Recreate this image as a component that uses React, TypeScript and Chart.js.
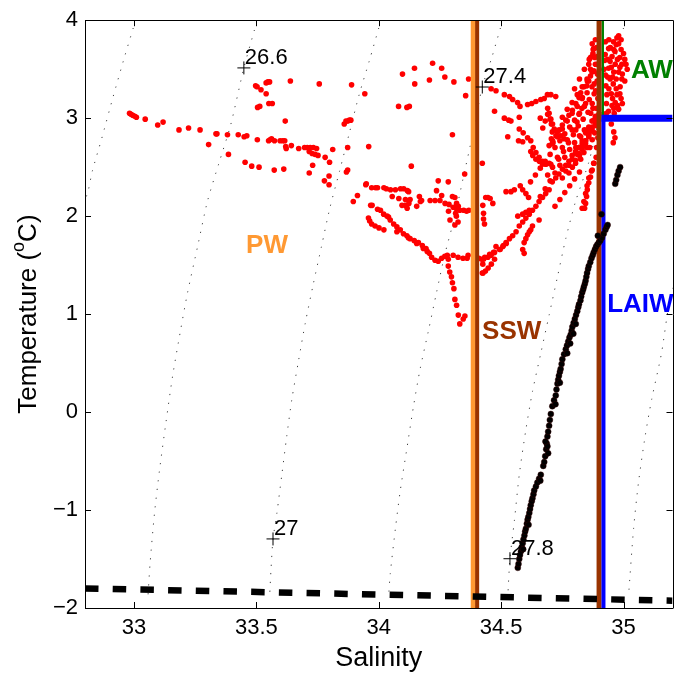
import React, { useEffect, useRef } from "react";
import { Chart, registerables } from "chart.js";

Chart.register(...registerables);

type Pt = [number, number];

const FONT = '"Liberation Sans", Arial, Helvetica, sans-serif';

// ---- axes ----
const salinityRange = [32.8, 35.2];
const temperatureRange = [-2, 4];
const salinityTicks = [33, 33.5, 34, 34.5, 35];
const temperatureTicks = [-2, -1, 0, 1, 2, 3, 4];

// ---- isopycnals (sigma-theta) ----
const iso262: Pt[] = [[32.997, 3.92], [32.962, 3.63], [32.915, 3.22], [32.868, 2.79], [32.83, 2.46], [32.81, 2.23], [32.79, 2.13]];
const iso266: Pt[] = [[33.492, 3.9], [33.449, 3.513], [33.395, 2.93], [33.347, 2.54], [33.3, 2.15], [33.26, 1.69], [33.219, 1.22], [33.19, 0.83], [33.158, 0.37], [33.131, -0.1], [33.104, -0.6], [33.084, -1.03], [33.066, -1.54], [33.057, -1.89]];
const iso270: Pt[] = [[34.0, 3.92], [33.962, 3.59], [33.92, 3.24], [33.88, 2.85], [33.84, 2.46], [33.8, 2.08], [33.766, 1.69], [33.732, 1.3], [33.7, 0.91], [33.672, 0.52], [33.645, 0.13], [33.624, -0.25], [33.604, -0.64], [33.584, -1.03], [33.568, -1.3], [33.56, -1.6], [33.554, -1.89]];
const iso274: Pt[] = [[34.497, 3.92], [34.462, 3.62], [34.423, 3.318], [34.385, 2.85], [34.345, 2.39], [34.311, 2.0], [34.27, 1.61], [34.236, 1.22], [34.203, 0.83], [34.169, 0.44], [34.142, 0.06], [34.115, -0.37], [34.088, -0.8], [34.068, -1.19], [34.047, -1.65], [34.04, -1.89]];
const iso278: Pt[] = [[35.0, 3.92], [34.987, 3.83], [34.966, 3.59], [34.93, 3.26], [34.895, 2.93], [34.858, 2.55], [34.804, 2.15], [34.764, 1.77], [34.73, 1.38], [34.696, 0.99], [34.662, 0.6], [34.628, 0.21], [34.601, -0.18], [34.574, -0.64], [34.554, -1.11], [34.536, -1.497], [34.527, -1.89]];
const iso282: Pt[] = [[35.5, 3.92], [35.42, 3.3], [35.33, 2.5], [35.26, 1.8], [35.189, 1.14], [35.155, 0.6], [35.115, 0.13], [35.088, -0.25], [35.061, -0.72], [35.041, -1.19], [35.02, -1.89]];
const isopycnals = [iso262, iso266, iso270, iso274, iso278, iso282];

// contour labels
const contourLabelText = ["26.6", "27", "27.4", "27.8"];
const contourLabelS = [33.449, 33.568, 34.423, 34.536];
const contourLabelT = [3.513, -1.295, 3.318, -1.497];

// freezing line
const freezingLine: Pt[] = [[32.8, -1.8], [35.2, -1.925]];

// water-mass boundaries
const pwBoundaryS = 34.386;
const sswBoundaryLeftS = 34.402;
const sswBoundaryRightS = 34.9;
const awBoundaryS = 34.915;
const laiwBoundaryS = 34.918;
const laiwTopT = 3.0;

// water-mass labels
const waterMassNames = ["PW", "SSW", "AW", "LAIW"];
const waterMassS = [33.458, 34.422, 35.03, 34.933];
const waterMassT = [1.693, 0.814, 3.48, 1.09];
const waterMassColors = ["#ff9933", "#993300", "#008000", "#0000ff"];

// ---- red profile points (upper layer) ----
const redShelf: Pt[] = [
  [32.982, 3.05], [32.988, 3.04], [32.995, 3.03], [33.003, 3.02], [33.01, 3.01], [33.046, 2.99], [33.097, 2.93], [33.119, 2.96],
  [33.184, 2.88], [33.223, 2.9], [33.27, 2.88], [33.305, 2.73], [33.335, 2.84], [33.339, 2.84], [33.382, 2.83], [33.386, 2.63],
  [33.426, 2.83], [33.45, 2.81], [33.461, 2.82], [33.454, 2.55], [33.481, 2.51], [33.511, 2.5], [33.504, 2.78], [33.55, 2.77],
  [33.556, 2.78], [33.562, 2.79], [33.574, 2.77], [33.573, 2.47], [33.597, 2.77], [33.608, 2.77], [33.616, 2.77], [33.62, 2.71],
  [33.622, 2.69], [33.612, 2.48], [33.618, 2.97], [33.643, 2.72], [33.673, 2.69], [33.697, 2.7], [33.708, 2.7], [33.72, 2.7],
  [33.733, 2.7], [33.746, 2.69], [33.716, 2.66], [33.728, 2.64], [33.74, 2.63], [33.752, 2.62], [33.73, 2.52], [33.716, 2.44],
  [33.781, 2.6], [33.799, 2.55], [33.812, 2.68], [33.778, 2.36], [33.797, 2.41], [33.797, 2.32], [33.873, 2.7], [33.868, 2.45],
  [33.873, 2.47], [33.959, 2.71], [33.896, 2.15], [33.913, 2.21], [33.949, 2.33], [33.947, 2.32], [33.971, 2.29], [33.987, 2.29],
  [33.995, 2.29], [33.973, 2.11], [33.967, 2.11], [33.995, 2.07], [33.958, 1.98], [33.963, 1.95], [33.971, 1.92], [33.985, 1.9],
  [34.001, 1.88], [34.021, 1.86],
  [33.497, 3.33], [33.503, 3.32], [33.519, 3.29], [33.54, 3.25], [33.54, 3.36], [33.547, 3.37], [33.554, 3.37], [33.505, 3.11],
  [33.514, 3.12], [33.551, 3.15], [33.565, 3.15], [33.639, 3.38], [33.757, 3.35], [33.889, 3.34], [33.943, 3.25], [33.859, 2.94],
  [33.866, 2.97], [33.874, 2.97], [33.88, 2.98], [33.886, 2.98],
];

const redMid: Pt[] = [
  [34.021, 2.29], [34.031, 2.28], [34.048, 2.27], [34.068, 2.27], [34.089, 2.28], [34.102, 2.28], [34.117, 2.26], [34.122, 2.25],
  [34.007, 2.06], [34.02, 2.02], [34.034, 2.0], [34.047, 1.96], [34.061, 1.92], [34.074, 1.89], [34.088, 1.86], [34.101, 1.82],
  [34.115, 1.8], [34.128, 1.77], [34.145, 1.75], [34.162, 1.73], [34.178, 1.7], [34.193, 1.67], [34.207, 1.62], [34.216, 1.58],
  [34.23, 1.55], [34.243, 1.54], [34.257, 1.57], [34.27, 1.59], [34.28, 1.6], [34.284, 1.56],
  [34.04, 1.99], [34.074, 1.84], [34.121, 1.78], [34.155, 1.72], [34.182, 1.67], [34.198, 1.64],
  [34.304, 1.6], [34.324, 1.58], [34.344, 1.57], [34.361, 1.57], [34.365, 1.6],
  [34.284, 1.49], [34.29, 1.43], [34.297, 1.38], [34.301, 1.32], [34.307, 1.26], [34.311, 1.15], [34.318, 1.09], [34.325, 0.99],
  [34.331, 0.9], [34.345, 0.95], [34.352, 0.98],
  [34.097, 3.45], [34.146, 3.51], [34.147, 3.35], [34.207, 3.39], [34.22, 3.56], [34.257, 3.51], [34.27, 3.42], [34.307, 3.37],
  [34.355, 3.23], [34.367, 3.4], [34.081, 3.12], [34.115, 3.11], [34.125, 3.12], [34.301, 2.83], [34.133, 2.51], [34.351, 2.43],
  [34.243, 2.36], [34.284, 2.35],
  [34.055, 2.2], [34.082, 2.18], [34.109, 2.17], [34.123, 2.13], [34.095, 2.11], [34.116, 2.08], [34.166, 2.2], [34.17, 2.15],
  [34.21, 2.16], [34.23, 2.16], [34.25, 2.16], [34.271, 2.13], [34.311, 2.19], [34.318, 2.13], [34.325, 2.1], [34.285, 2.05],
  [34.314, 2.03], [34.291, 1.96], [34.311, 1.91], [34.359, 2.05], [34.368, 2.06],
  [34.236, 2.26], [34.257, 2.21], [34.175, 2.16], [34.155, 2.1], [34.128, 2.17], [34.108, 2.11], [34.287, 2.12], [34.304, 2.09],
  [34.331, 2.06], [34.347, 2.06], [34.301, 2.2], [34.315, 2.08], [34.317, 2.0], [34.324, 1.94],
];

const redFront: Pt[] = [
  [34.437, 2.19], [34.446, 2.19], [34.455, 2.18], [34.425, 2.11], [34.428, 2.03], [34.428, 1.97], [34.432, 1.92], [34.466, 2.13],
  [34.423, 2.54], [34.425, 1.51], [34.423, 1.42], [34.409, 1.57], [34.428, 1.56], [34.446, 1.58], [34.459, 1.6], [34.469, 1.63],
  [34.42, 1.56], [34.433, 1.58], [34.453, 1.61], [34.473, 1.63], [34.426, 1.42], [34.436, 1.44], [34.447, 1.47], [34.46, 1.51],
  [34.473, 1.56], [34.493, 1.66], [34.509, 1.7], [34.521, 1.72],
  [34.479, 1.69], [34.496, 1.66], [34.507, 1.69], [34.52, 1.73], [34.534, 1.77], [34.547, 1.8], [34.561, 1.84], [34.574, 1.9],
  [34.588, 1.94], [34.601, 1.98], [34.615, 2.02], [34.628, 2.06], [34.642, 2.1], [34.655, 2.15], [34.669, 2.19], [34.682, 2.23],
  [34.696, 2.27], [34.709, 2.35], [34.723, 2.39], [34.736, 2.43], [34.75, 2.48], [34.764, 2.52], [34.777, 2.56], [34.79, 2.62],
  [34.804, 2.66], [34.817, 2.7], [34.831, 2.74], [34.845, 2.77], [34.858, 2.83], [34.871, 2.89], [34.885, 2.95],
  [34.459, 3.3], [34.479, 3.28], [34.513, 3.24], [34.534, 3.22], [34.547, 3.19], [34.567, 3.16], [34.577, 3.12], [34.608, 3.14],
  [34.625, 3.15], [34.642, 3.17], [34.662, 3.19], [34.676, 3.2], [34.689, 3.24], [34.703, 3.24], [34.723, 3.22],
  [34.473, 3.07], [34.513, 3.0], [34.531, 2.98], [34.54, 2.97], [34.574, 3.01],
  [34.574, 2.89], [34.59, 2.85], [34.608, 2.8], [34.621, 2.77], [34.631, 2.7], [34.642, 2.65], [34.655, 2.6], [34.669, 2.56],
  [34.682, 2.53], [34.696, 2.54],
  [34.527, 2.81], [34.571, 2.77], [34.588, 2.76], [34.621, 2.66],
  [34.696, 3.05], [34.7, 2.99], [34.705, 2.94], [34.709, 2.86], [34.705, 2.79], [34.712, 2.75],
  [34.578, 2.31], [34.588, 2.27], [34.601, 2.23], [34.612, 2.19],
  [34.52, 2.25], [34.54, 2.25], [34.554, 2.27],
  [34.568, 2.0], [34.588, 2.02], [34.601, 2.04], [34.615, 2.06],
  [34.594, 1.73], [34.601, 1.77], [34.608, 1.81], [34.615, 1.84], [34.621, 1.86], [34.628, 1.9], [34.588, 1.66], [34.594, 1.62],
  [34.655, 1.96],
];

const redDense: Pt[] = [
  [34.75, 2.39], [34.764, 2.46], [34.777, 2.52], [34.79, 2.58], [34.804, 2.64], [34.817, 2.7], [34.831, 2.77], [34.845, 2.85],
  [34.858, 2.91], [34.871, 2.97], [34.885, 3.02],
  [34.804, 2.54], [34.82, 2.62], [34.831, 2.68], [34.845, 2.74], [34.858, 2.81], [34.871, 2.87], [34.885, 2.93],
  [34.831, 2.08], [34.838, 2.15], [34.845, 2.23], [34.851, 2.31], [34.858, 2.39], [34.869, 2.46], [34.878, 2.54], [34.888, 2.6],
  [34.709, 2.74], [34.73, 2.81], [34.75, 2.89], [34.77, 2.97], [34.79, 3.05], [34.811, 3.12], [34.831, 3.2], [34.851, 3.26],
  [34.871, 3.32], [34.892, 3.38],
  [34.75, 3.01], [34.77, 3.09], [34.79, 3.16], [34.811, 3.24], [34.831, 3.32], [34.851, 3.4], [34.871, 3.47], [34.885, 3.55],
  [34.892, 3.63], [34.858, 3.55], [34.871, 3.63], [34.878, 3.71],
  [34.892, 3.55], [34.879, 3.48], [34.865, 3.43], [34.852, 3.38], [34.838, 3.32], [34.825, 3.26], [34.818, 3.21], [34.805, 3.15],
  [34.791, 3.08], [34.777, 3.03], [34.764, 2.98], [34.75, 2.93], [34.737, 2.88], [34.724, 2.82], [34.71, 2.77], [34.696, 2.72],
  [34.899, 3.04], [34.885, 2.98], [34.872, 2.91], [34.858, 2.84], [34.845, 2.77], [34.831, 2.71], [34.818, 2.64], [34.804, 2.57],
  [34.791, 2.5], [34.777, 2.44],
  [34.879, 2.54], [34.872, 2.47], [34.865, 2.4], [34.858, 2.34], [34.852, 2.27], [34.849, 2.2], [34.845, 2.13], [34.841, 2.08],
  [34.69, 3.04], [34.703, 2.99], [34.71, 2.94], [34.717, 2.89], [34.73, 2.86], [34.744, 2.82], [34.757, 2.79],
  [34.629, 2.62], [34.642, 2.58], [34.656, 2.56], [34.669, 2.53], [34.683, 2.53], [34.703, 2.53],
  [34.872, 3.76], [34.865, 3.62], [34.879, 3.48], [34.858, 3.38], [34.832, 3.21], [34.845, 3.15], [34.818, 3.04], [34.872, 3.15],
  [34.805, 2.88], [34.825, 2.81], [34.852, 2.88], [34.879, 2.98], [34.886, 3.28], [34.893, 3.45], [34.88, 3.35], [34.89, 3.1],
  [34.866, 3.05], [34.876, 3.7], [34.885, 3.8], [34.805, 2.7], [34.812, 2.63], [34.825, 2.58], [34.838, 2.65], [34.85, 2.7],
  [34.62, 2.35], [34.64, 2.42], [34.66, 2.49], [34.68, 2.56], [34.7, 2.63], [34.72, 2.7], [34.74, 2.77], [34.76, 2.84],
  [34.78, 2.91], [34.8, 2.98], [34.82, 3.05], [34.84, 3.12], [34.86, 3.19], [34.88, 3.25],
  [34.66, 2.2], [34.68, 2.28], [34.7, 2.36], [34.72, 2.44], [34.74, 2.52], [34.76, 2.6], [34.78, 2.68], [34.8, 2.75],
  [34.82, 2.82], [34.84, 2.88],
  [34.72, 2.1], [34.74, 2.17], [34.76, 2.24], [34.78, 2.31], [34.8, 2.38], [34.82, 2.45],
  [34.8, 3.3], [34.82, 3.4], [34.84, 3.5], [34.86, 3.6], [34.875, 3.66], [34.89, 3.72],
  [34.67, 2.9], [34.68, 2.97], [34.69, 3.1], [34.66, 3.0], [34.735, 2.58], [34.755, 2.66], [34.775, 2.75], [34.795, 2.83],
  [34.815, 2.92], [34.835, 2.99], [34.855, 3.06], [34.875, 3.1], [34.69, 2.42], [34.71, 2.5], [34.73, 2.6], [34.75, 2.7],
  [34.77, 2.78], [34.79, 2.88], [34.81, 2.96], [34.83, 3.1], [34.85, 3.33], [34.865, 3.5], [34.883, 3.62], [34.895, 3.2],
  [34.862, 2.7], [34.872, 2.78], [34.882, 2.85], [34.892, 2.92], [34.895, 2.8], [34.89, 2.7],
];

const redAtlantic: Pt[] = [
  [34.926, 3.78], [34.939, 3.71], [34.953, 3.63], [34.966, 3.55], [34.98, 3.47], [34.993, 3.4], [34.986, 3.32], [34.973, 3.24],
  [34.966, 3.16], [34.98, 3.09], [34.939, 3.07], [34.953, 3.13], [34.932, 3.24], [34.926, 3.44], [34.923, 3.59], [34.939, 3.51],
  [34.98, 3.76], [35.0, 3.66], [34.993, 3.55], [34.959, 3.78], [34.946, 3.72], [34.973, 3.82], [34.98, 3.84], [35.01, 3.55],
  [35.015, 3.5], [34.945, 3.4], [34.958, 3.35], [34.95, 3.25], [34.962, 3.05], [34.97, 3.4], [34.985, 3.62], [34.93, 3.15],
  [34.945, 3.58], [34.96, 3.47], [34.99, 3.7], [34.928, 3.33], [34.976, 3.13], [34.99, 3.2],
  [34.925, 3.65], [34.935, 3.6], [34.95, 3.52], [34.965, 3.68], [34.975, 3.6], [34.985, 3.52], [34.995, 3.45], [35.005, 3.38],
  [34.94, 3.3], [34.955, 3.2], [34.97, 3.3], [34.985, 3.25], [34.995, 3.15], [34.93, 3.05], [34.945, 3.0], [34.96, 3.1],
  [34.92, 3.5], [34.935, 3.42], [34.955, 3.42], [34.96, 3.7], [34.97, 3.75], [34.99, 3.8], [35.005, 3.6], [34.94, 3.8],
  [34.95, 2.94], [34.96, 2.86], [34.965, 2.8], [34.958, 2.75],
];

// ---- black profile points (deep layer) ----
const blackDeep: Pt[] = [
  [34.568, -1.59], [34.571, -1.55], [34.574, -1.5], [34.577, -1.46], [34.581, -1.42], [34.584, -1.38], [34.588, -1.34],
  [34.591, -1.3], [34.595, -1.26], [34.598, -1.22], [34.601, -1.19], [34.605, -1.14], [34.608, -1.1], [34.611, -1.07],
  [34.615, -1.03], [34.618, -0.99], [34.621, -0.95], [34.625, -0.91], [34.628, -0.88], [34.632, -0.84], [34.635, -0.8],
  [34.642, -0.76], [34.648, -0.72], [34.655, -0.68], [34.662, -0.64],
  [34.672, -0.55], [34.676, -0.51], [34.68, -0.45], [34.684, -0.38], [34.686, -0.32], [34.689, -0.25], [34.692, -0.2],
  [34.696, -0.14], [34.699, -0.08], [34.703, -0.02], [34.709, 0.06], [34.716, 0.12], [34.723, 0.17], [34.726, 0.23],
  [34.73, 0.29], [34.733, 0.33], [34.736, 0.37], [34.74, 0.41], [34.743, 0.44], [34.747, 0.49], [34.75, 0.54], [34.757, 0.59],
  [34.764, 0.64], [34.769, 0.68], [34.774, 0.72], [34.779, 0.76], [34.784, 0.79], [34.788, 0.83], [34.791, 0.87], [34.796, 0.91],
  [34.801, 0.95], [34.806, 0.99], [34.811, 1.03], [34.815, 1.07], [34.818, 1.1], [34.824, 1.14], [34.827, 1.18], [34.831, 1.22],
  [34.835, 1.25], [34.838, 1.28], [34.842, 1.31], [34.845, 1.34], [34.848, 1.38], [34.851, 1.42], [34.855, 1.46], [34.858, 1.49],
  [34.864, 1.53], [34.869, 1.57], [34.874, 1.6], [34.878, 1.63], [34.883, 1.66], [34.888, 1.69], [34.893, 1.71], [34.899, 1.73],
  [34.905, 1.75], [34.912, 1.78], [34.919, 1.82], [34.926, 1.86], [34.931, 1.89], [34.935, 1.91],
  [34.91, 2.02], [34.895, 1.8], [34.689, -0.35], [34.681, -0.3], [34.692, -0.42], [34.77, 0.6], [34.782, 0.7], [34.795, 0.8],
  [34.805, 0.9], [34.74, 0.3], [34.722, 0.08], [34.66, -0.7], [34.612, -1.15], [34.59, -1.4],
];
const blackUpper: Pt[] = [[34.966, 2.33], [34.97, 2.37], [34.975, 2.42], [34.98, 2.46], [34.986, 2.5]];

const toXY = (pts: Pt[]) => pts.map(([s, t]) => ({ x: s, y: t }));
const fmtNum = (v: number) => (v < 0 ? "\u2212" + Math.abs(v) : String(v));

const overlayPlugin = {
  id: "tsOverlay",
  afterDatasetsDraw(chart: any) {
    const { ctx, scales } = chart;
    const xs = scales.x;
    const ys = scales.y;
    ctx.save();
    ctx.fillStyle = "#000";
    ctx.font = `22px ${FONT}`;
    ctx.textAlign = "left";
    ctx.textBaseline = "alphabetic";
    contourLabelText.forEach((t, i) => {
      ctx.fillText(t, xs.getPixelForValue(contourLabelS[i]) + 1, ys.getPixelForValue(contourLabelT[i]) - 4);
    });
    ctx.font = `bold 26px ${FONT}`;
    ctx.textBaseline = "middle";
    waterMassNames.forEach((t, i) => {
      ctx.fillStyle = waterMassColors[i];
      ctx.fillText(t, xs.getPixelForValue(waterMassS[i]), ys.getPixelForValue(waterMassT[i]));
    });
    ctx.restore();
  },
  afterDraw(chart: any) {
    const { ctx, chartArea: a, scales } = chart;
    const xs = scales.x;
    const ys = scales.y;
    ctx.save();
    ctx.strokeStyle = "#000";
    ctx.lineWidth = 1;
    const al = (v: number) => Math.round(v) + 0.5;
    ctx.beginPath();
    ctx.moveTo(al(a.left), al(a.top));
    ctx.lineTo(al(a.right), al(a.top));
    ctx.lineTo(al(a.right), al(a.bottom));
    const tl = 6;
    salinityTicks.forEach((v) => {
      const px = al(xs.getPixelForValue(v));
      ctx.moveTo(px, a.bottom);
      ctx.lineTo(px, a.bottom - tl);
      ctx.moveTo(px, a.top);
      ctx.lineTo(px, a.top + tl);
    });
    temperatureTicks.forEach((v) => {
      const py = al(ys.getPixelForValue(v));
      ctx.moveTo(a.left, py);
      ctx.lineTo(a.left + tl, py);
      ctx.moveTo(a.right, py);
      ctx.lineTo(a.right - tl, py);
    });
    ctx.stroke();

    // axis titles
    ctx.fillStyle = "#000";
    ctx.font = `27px ${FONT}`;
    ctx.textAlign = "center";
    ctx.textBaseline = "alphabetic";
    ctx.fillText("Salinity", (a.left + a.right) / 2, 666);

    const part1 = "Temperature (";
    const sup = "o";
    const part2 = "C)";
    const mainFont = `26px ${FONT}`;
    const supFont = `18px ${FONT}`;
    ctx.font = mainFont;
    const w1 = ctx.measureText(part1).width;
    const w3 = ctx.measureText(part2).width;
    ctx.font = supFont;
    const w2 = ctx.measureText(sup).width;
    const total = w1 + w2 + w3;
    ctx.translate(36, (a.top + a.bottom) / 2);
    ctx.rotate(-Math.PI / 2);
    ctx.textAlign = "left";
    let x0 = -total / 2;
    ctx.font = mainFont;
    ctx.fillText(part1, x0, 0);
    x0 += w1;
    ctx.font = supFont;
    ctx.fillText(sup, x0, -12);
    x0 += w2;
    ctx.font = mainFont;
    ctx.fillText(part2, x0, 0);
    ctx.restore();
  },
};

export default function App() {
  const canvasRef = useRef<HTMLCanvasElement | null>(null);

  useEffect(() => {
    const canvas = canvasRef.current;
    if (!canvas) return;

    const vline = (s: number, t0: number, t1: number) => [{ x: s, y: t0 }, { x: s, y: t1 }];
    const lineDs = (data: any[], color: string, width: number, order: number, dash: number[] = []) => ({
      type: "scatter",
      data,
      showLine: true,
      pointRadius: 0,
      pointHoverRadius: 0,
      borderColor: color,
      borderWidth: width,
      borderDash: dash,
      fill: false,
      order,
    });

    const datasets: any[] = [];
    isopycnals.forEach((iso) => {
      datasets.push({ ...lineDs(toXY(iso), "#404040", 1, 20, [1.2, 7.5]), tension: 0.25 });
    });
    datasets.push({
      type: "scatter",
      data: toXY([...redShelf, ...redMid, ...redFront, ...redDense, ...redAtlantic]),
      pointRadius: 2.8,
      pointHoverRadius: 2.8,
      pointBackgroundColor: "#ff0000",
      pointBorderWidth: 0,
      order: 15,
    });
    datasets.push(lineDs(vline(pwBoundaryS, temperatureRange[0], temperatureRange[1]), "#ff9933", 5, 12));
    datasets.push(lineDs(vline(sswBoundaryLeftS, temperatureRange[0], temperatureRange[1]), "#993300", 4, 11));
    datasets.push(lineDs(vline(sswBoundaryRightS, temperatureRange[0], temperatureRange[1]), "#993300", 5, 11));
    datasets.push(lineDs(vline(awBoundaryS, laiwTopT, temperatureRange[1]), "#008000", 2.5, 11));
    datasets.push(lineDs(vline(laiwBoundaryS, temperatureRange[0], laiwTopT), "#0000ff", 4, 10));
    datasets.push(lineDs([{ x: laiwBoundaryS - 0.008, y: laiwTopT }, { x: salinityRange[1], y: laiwTopT }], "#0000ff", 7, 10));
    datasets.push({ ...lineDs(toXY(freezingLine), "#000000", 6.5, 8, [13.5, 14.2]) });
    datasets.push({
      type: "scatter",
      data: toXY([...blackDeep, ...blackUpper]),
      pointRadius: 3,
      pointHoverRadius: 3,
      pointBackgroundColor: "#000000",
      pointBorderColor: "#400000",
      pointBorderWidth: 0.4,
      order: 5,
    });
    datasets.push({
      type: "scatter",
      data: contourLabelS.map((s, i) => ({ x: s, y: contourLabelT[i] })),
      pointStyle: "cross",
      pointRadius: 6.5,
      pointHoverRadius: 6.5,
      pointBorderColor: "#000",
      pointBorderWidth: 1,
      order: 2,
    });

    const tickFont = { family: FONT, size: 22 };
    const chart = new Chart(canvas, {
      type: "scatter",
      data: { datasets },
      options: {
        responsive: false,
        animation: false,
        devicePixelRatio: 1,
        events: [],
        layout: { padding: { top: 16, right: 2, left: 0, bottom: 0 } },
        plugins: { legend: { display: false }, tooltip: { enabled: false } },
        scales: {
          x: {
            type: "linear",
            min: salinityRange[0],
            max: salinityRange[1],
            afterBuildTicks: (s: any) => {
              s.ticks = salinityTicks.map((v) => ({ value: v }));
            },
            afterFit: (s: any) => {
              s.height = 67;
            },
            grid: { display: false, drawTicks: false },
            border: { display: true, color: "#000", width: 1 },
            ticks: { font: tickFont, color: "#000", padding: 7, maxRotation: 0, autoSkip: false, callback: (v: any) => fmtNum(Number(v)) },
          },
          y: {
            type: "linear",
            min: temperatureRange[0],
            max: temperatureRange[1],
            afterBuildTicks: (s: any) => {
              s.ticks = temperatureTicks.map((v) => ({ value: v }));
            },
            afterFit: (s: any) => {
              s.width = 85;
            },
            grid: { display: false, drawTicks: false },
            border: { display: true, color: "#000", width: 1 },
            ticks: { font: tickFont, color: "#000", padding: 7, autoSkip: false, callback: (v: any) => fmtNum(Number(v)) },
          },
        },
      } as any,
      plugins: [overlayPlugin as any],
    });
    return () => chart.destroy();
  }, []);

  return (
    <div style={{ position: "fixed", left: 0, top: 0, width: 675, height: 675, overflow: "hidden", background: "#fff" }}>
      <canvas ref={canvasRef} width={680} height={675} style={{ display: "block", width: 680, height: 675 }} />
    </div>
  );
}
